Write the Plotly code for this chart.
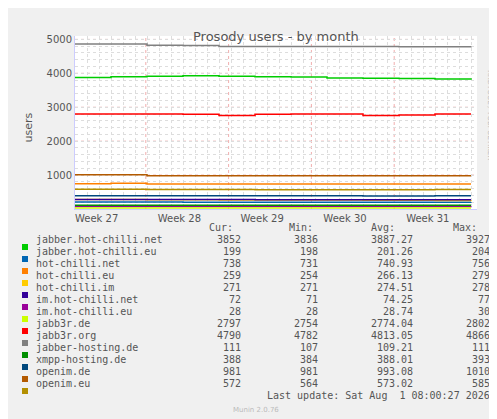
import plotly.graph_objects as go

# sample days (0 = left edge of the graph), step lines
days = [0, 3, 6, 9, 12, 15, 18, 21, 24, 27, 30, 33]

names = ['jabber.hot-chilli.net', 'jabber.hot-chilli.eu', 'hot-chilli.net', 'hot-chilli.eu',
         'hot-chilli.im', 'im.hot-chilli.net', 'im.hot-chilli.eu', 'jabb3r.de', 'jabb3r.org',
         'jabber-hosting.de', 'xmpp-hosting.de', 'openim.de', 'openim.eu']
colors = ['#00cc00', '#0066b3', '#ff8000', '#ffcc00', '#330099', '#990099', '#ccff00',
          '#ff0000', '#808080', '#008f00', '#00487d', '#b35a00', '#b38f00']

jabber_hot_chilli_net = [3880, 3900, 3915, 3927, 3910, 3900, 3890, 3860, 3855, 3850, 3836, 3852]
jabber_hot_chilli_eu = [204, 204, 203, 202, 201, 201, 201, 200, 200, 199, 198, 199]
hot_chilli_net = [745, 756, 740, 738, 738, 738, 738, 738, 738, 738, 738, 738]
hot_chilli_eu = [279, 279, 275, 270, 266, 265, 264, 262, 260, 258, 254, 259]
hot_chilli_im = [278, 278, 278, 278, 278, 271, 271, 271, 271, 271, 271, 271]
im_hot_chilli_net = [77, 76, 75, 75, 74, 74, 74, 73, 73, 72, 71, 72]
im_hot_chilli_eu = [30, 30, 29, 29, 29, 29, 28, 28, 28, 28, 28, 28]
jabb3r_de = [2802, 2802, 2800, 2790, 2760, 2790, 2800, 2800, 2760, 2770, 2797, 2797]
jabb3r_org = [4866, 4866, 4830, 4820, 4790, 4790, 4790, 4790, 4790, 4785, 4782, 4790]
jabber_hosting_de = [107, 108, 108, 109, 109, 109, 110, 110, 110, 111, 111, 111]
xmpp_hosting_de = [393, 390, 388, 388, 388, 388, 388, 388, 386, 384, 388, 388]
openim_de = [1010, 1010, 981, 981, 981, 981, 981, 981, 981, 981, 981, 981]
openim_eu = [585, 585, 572, 572, 572, 570, 570, 568, 566, 564, 572, 572]

series = [jabber_hot_chilli_net, jabber_hot_chilli_eu, hot_chilli_net, hot_chilli_eu,
          hot_chilli_im, im_hot_chilli_net, im_hot_chilli_eu, jabb3r_de, jabb3r_org,
          jabber_hosting_de, xmpp_hosting_de, openim_de, openim_eu]

cur = ['3852', '199', '738', '259', '271', '72', '28', '2797', '4790', '111', '388', '981', '572']
mins = ['3836', '198', '731', '254', '271', '71', '28', '2754', '4782', '107', '384', '981', '564']
avgs = ['3887.27', '201.26', '740.93', '266.13', '274.51', '74.25', '28.74', '2774.04',
        '4813.05', '109.21', '388.01', '993.08', '573.02']
maxs = ['3927', '204', '756', '279', '278', '77', '30', '2802', '4866', '111', '393', '1010', '585']

week_pos = [1.8, 8.7, 15.6, 22.5, 29.4]
week_labels = ['Week 27', 'Week 28', 'Week 29', 'Week 30', 'Week 31']
week_bounds = [5.9, 12.8, 19.7, 26.6]

W, H = 497, 419
L, R, T, B = 67, 469, 28, 201


def px(x):
    return (x - L) / (R - L)


def py(y):
    return (B - y) / (B - T)


fig = go.Figure()
for n, c, s in zip(names, colors, series):
    fig.add_trace(go.Scatter(x=days, y=s, mode='lines', name=n, line=dict(color=c, width=1.5, shape='hv')))

grey = '#555555'
mono = 'DejaVu Sans Mono'
shapes = []
# week boundaries (red dotted)
for wb in week_bounds:
    shapes.append(dict(type='line', xref='x', yref='paper', x0=wb, x1=wb, y0=0, y1=1,
                       line=dict(color='rgba(230,120,120,0.6)', width=1, dash='dot'), layer='below'))
for k in range(1000, 5001, 1000):
    shapes.append(dict(type='line', xref='paper', yref='y', x0=0, x1=1, y0=k, y1=k,
                       line=dict(color='rgba(230,120,120,0.6)', width=1, dash='dot'), layer='below'))

ann = [
    dict(text='Prosody users - by month', x=0.5, y=py(19), showarrow=False,
         font=dict(size=13, color=grey, family='DejaVu Sans')),
    dict(text='users', x=px(12), y=py(120), textangle=-90, showarrow=False,
         font=dict(size=11, color=grey, family='DejaVu Sans')),
    dict(text='RRDTOOL / TOBI OETIKER', x=px(488), y=py(60), textangle=90, showarrow=False,
         font=dict(size=7, color='#bbbbbb', family='DejaVu Sans')),
]
headers = [('Cur:', 227), ('Min:', 307), ('Avg:', 389), ('Max:', 471)]
for h, xr in headers:
    ann.append(dict(text=h, x=px(xr), y=py(227), xanchor='right', showarrow=False,
                    font=dict(size=10, color=grey, family=mono)))
for i, n in enumerate(names):
    yy = 239 + 12 * i
    shapes.append(dict(type='rect', xref='paper', yref='paper', x0=px(14), x1=px(20),
                       y0=py(yy + 3), y1=py(yy - 3), fillcolor=colors[i], line=dict(width=0)))
    ann.append(dict(text=n, x=px(26), y=py(yy), xanchor='left', showarrow=False,
                    font=dict(size=10, color=grey, family=mono)))
    for vals, xr in ((cur, 235), (mins, 312), (avgs, 407), (maxs, 484)):
        ann.append(dict(text=vals[i], x=px(xr), y=py(yy), xanchor='right', showarrow=False,
                        font=dict(size=10, color=grey, family=mono)))
ann.append(dict(text='Last update: Sat Aug&nbsp; 1 08:00:27 2026',
                x=px(484), y=py(395), xanchor='right', showarrow=False,
                font=dict(size=10, color=grey, family=mono)))
ann.append(dict(text='Munin 2.0.76', x=px(248), y=py(408), showarrow=False,
                font=dict(size=7, color='#bbbbbb', family='DejaVu Sans')))
for a in ann:
    a.setdefault('xref', 'paper')
    a.setdefault('yref', 'paper')

fig.update_layout(
    width=W, height=H,
    margin=dict(l=L, r=W - R, t=T, b=H - B, pad=0),
    paper_bgcolor='#f0f0f0', plot_bgcolor='white',
    showlegend=False,
    shapes=shapes, annotations=ann,
    xaxis=dict(range=[0, 33.5], tickvals=week_pos, ticktext=week_labels, ticks='',
               showgrid=False, minor=dict(dtick=1, tick0=0, showgrid=True, gridcolor='#dddddd',
                                          griddash='dot', gridwidth=1),
               showline=True, linecolor='#ccccff', zeroline=False,
               tickfont=dict(size=10, color=grey, family='DejaVu Sans')),
    yaxis=dict(range=[0, 5100], tickvals=[1000, 2000, 3000, 4000, 5000], ticks='',
               showgrid=False, minor=dict(dtick=200, tick0=0, showgrid=True, gridcolor='#dddddd',
                                          griddash='dot', gridwidth=1),
               showline=True, linecolor='#ccccff', zeroline=False,
               tickfont=dict(size=10, color=grey, family='DejaVu Sans')),
    font=dict(family='DejaVu Sans', color=grey),
)

fig.write_html('out.html')
